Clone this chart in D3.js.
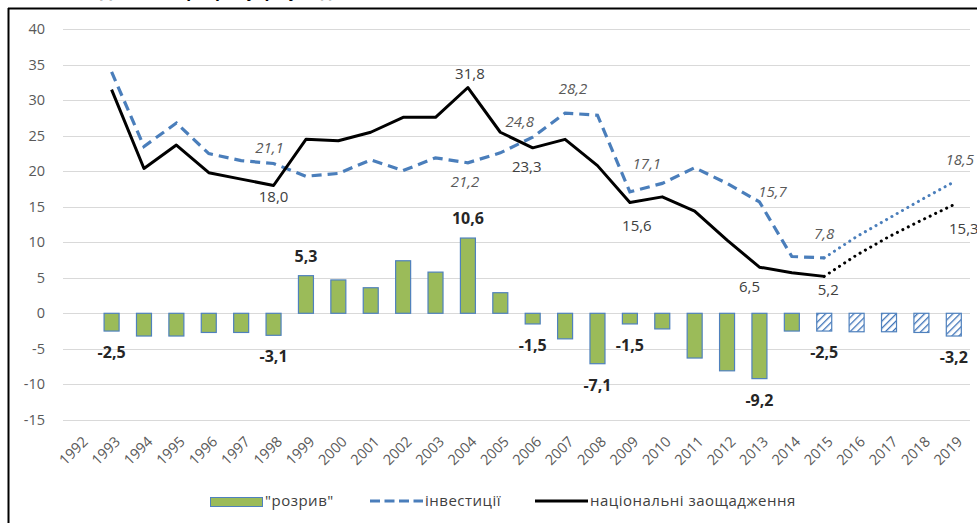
<!DOCTYPE html>
<html>
<head>
<meta charset="utf-8">
<script src="https://cdn.jsdelivr.net/npm/d3@7"></script>
<style>
  html, body { margin: 0; padding: 0; background: #fff; }
  svg { display: block; font-family: "Open Sans", "Noto Sans", sans-serif; }
</style>
</head>
<body>
<svg id="chart" width="977" height="523"></svg>
<script>
// ---- data ----
const years = ["1992","1993","1994","1995","1996","1997","1998","1999","2000","2001","2002","2003","2004","2005","2006","2007","2008","2009","2010","2011","2012","2013","2014","2015","2016","2017","2018","2019"];
const gap = [null,-2.5,-3.2,-3.2,-2.7,-2.7,-3.1,5.3,4.7,3.6,7.4,5.8,10.6,2.9,-1.5,-3.6,-7.1,-1.5,-2.2,-6.3,-8.1,-9.2,-2.5,-2.5,-2.6,-2.6,-2.7,-3.2];
const investment = [null,34.0,23.5,26.8,22.5,21.5,21.1,19.3,19.7,21.6,20.1,21.9,21.2,22.6,24.8,28.2,27.9,17.1,18.3,20.5,18.3,15.7,8.0,7.8,10.8,13.4,16.0,18.5];
const savings = [null,31.5,20.4,23.7,19.8,18.9,18.0,24.5,24.3,25.5,27.6,27.6,31.8,25.5,23.3,24.5,20.8,15.6,16.4,14.4,10.3,6.5,5.7,5.2,8.2,10.8,13.1,15.3];
const forecastStart = "2015";   // dotted lines and hatched bars from here
const yTicks = [40,35,30,25,20,15,10,5,0,-5,-10,-15];
const legendLabels = ["\"розрив\"", "інвестиції", "національні заощадження"];
const title = "Динаміка розриву, р. (у % до ВВП)";

// labelled points
const gapLabelYears = ["1993","1998","1999","2004","2006","2008","2009","2013","2015","2019"];
const invLabelYears = ["1998","2004","2006","2007","2009","2013","2015","2019"];
const savLabelYears = ["1998","2004","2006","2009","2013","2015","2019"];

// ---- label placement (pixels, style only) ----
const invLabelPos = {"1998":[-4,-10],"2004":[-3,24],"2006":[-13,-10],"2007":[8,-19],"2009":[17,-23],"2013":[13,-5],"2015":[0,-19],"2019":[6,-17]};
const savLabelPos = {"1998":[0,16.5],"2004":[2,-8.6],"2006":[-6,24],"2009":[7,28],"2013":[-10,25],"2015":[4,19],"2019":[10,29]};

const fmt = v => String(v.toFixed(1)).replace(".", ",");

const svg = d3.select("#chart");

// frame
svg.append("line").attr("x1",8).attr("x2",977).attr("y1",8.5).attr("y2",8.5).attr("stroke","#000").attr("stroke-width",2);
svg.append("line").attr("x1",8.5).attr("x2",8.5).attr("y1",8).attr("y2",523).attr("stroke","#000").attr("stroke-width",2);

// clipped title (only descenders visible, as in the reference)
svg.append("text").attr("x",100).attr("y",-3).attr("font-size",16).attr("font-weight","bold").attr("fill","#000").text(title);

const x = d3.scaleBand().domain(years).range([63, 970]).padding(0);
const y = d3.scaleLinear().domain([-15, 40]).range([419.8, 29.3]);
const cx = yr => x(yr) + x.bandwidth() / 2;

// gridlines
svg.append("g").selectAll("line").data(yTicks).join("line")
  .attr("x1", 63).attr("x2", 970)
  .attr("y1", d => Math.round(y(d)) + 0.5).attr("y2", d => Math.round(y(d)) + 0.5)
  .attr("stroke", "#d9d9d9").attr("stroke-width", 1);

// y axis labels
const yAxis = d3.axisLeft(y).tickValues(yTicks).tickSize(0).tickPadding(0).tickFormat(d => String(d));
const gy = svg.append("g").attr("transform", "translate(45,0)").call(yAxis);
gy.select(".domain").remove();
gy.selectAll("text").attr("font-size", 14.5).attr("fill", "#595959").attr("font-family", "Open Sans");

// x axis labels
const xAxis = d3.axisBottom(x).tickSize(0).tickPadding(0);
const gx = svg.append("g").call(xAxis);
gx.select(".domain").remove();
gx.selectAll(".tick").attr("transform", d => `translate(${cx(d)},0)`);
gx.selectAll("text")
  .attr("font-size", 14.5).attr("fill", "#595959").attr("font-family", "Open Sans")
  .attr("text-anchor", "end").attr("dy", "0.35em").attr("y", 0)
  .attr("transform", "translate(6,439) rotate(-45)");

// hatch pattern
const defs = svg.append("defs");
const pat = defs.append("pattern").attr("id", "hatch").attr("patternUnits", "userSpaceOnUse")
  .attr("width", 5).attr("height", 5).attr("patternTransform", "rotate(45)");
pat.append("rect").attr("width", 5).attr("height", 5).attr("fill", "#fff");
pat.append("line").attr("x1", 0).attr("y1", 0).attr("x2", 0).attr("y2", 5).attr("stroke", "#3d72b8").attr("stroke-width", 2.6);

// bars
const barW = 15;
const fi = years.indexOf(forecastStart);
const barData = years.map((yr, i) => ({yr, v: gap[i], f: i >= fi})).filter(d => d.v !== null);
svg.append("g").selectAll("rect").data(barData).join("rect")
  .attr("x", d => cx(d.yr) - barW / 2)
  .attr("width", barW)
  .attr("y", d => y(Math.max(0, d.v)))
  .attr("height", d => Math.abs(y(d.v) - y(0)))
  .attr("fill", d => d.f ? "url(#hatch)" : "#9bbb59")
  .attr("stroke", "#4f81bd").attr("stroke-width", 1.2);

// lines
const line = d3.line().x(d => cx(d.yr)).y(d => y(d.v));
function series(vals) { return years.map((yr, i) => ({yr, v: vals[i], i})).filter(d => d.v !== null); }
const inv = series(investment), sav = series(savings);
const solid = arr => arr.filter(d => d.i <= fi), dotted = arr => arr.filter(d => d.i >= fi);

svg.append("path").datum(solid(inv)).attr("d", line).attr("fill", "none")
  .attr("stroke", "#4a7ebb").attr("stroke-width", 3.2).attr("stroke-dasharray", "10,6");
svg.append("path").datum(dotted(inv)).attr("d", line).attr("fill", "none")
  .attr("stroke", "#4a7ebb").attr("stroke-width", 3).attr("stroke-dasharray", "0.1,6").attr("stroke-linecap", "round");
svg.append("path").datum(solid(sav)).attr("d", line).attr("fill", "none")
  .attr("stroke", "#000").attr("stroke-width", 3).attr("stroke-linejoin", "round");
svg.append("path").datum(dotted(sav)).attr("d", line).attr("fill", "none")
  .attr("stroke", "#000").attr("stroke-width", 3).attr("stroke-dasharray", "0.1,6").attr("stroke-linecap", "round");

// bar labels
svg.append("g").selectAll("text").data(barData.filter(d => gapLabelYears.includes(d.yr))).join("text")
  .attr("x", d => cx(d.yr))
  .attr("y", d => d.v >= 0 ? y(d.v) - 14 : y(d.v) + 27)
  .attr("text-anchor", "middle").attr("font-size", 16).attr("font-weight", "bold").attr("fill", "#262626")
  .text(d => fmt(d.v));

// line labels
svg.append("g").selectAll("text").data(inv.filter(d => invLabelYears.includes(d.yr))).join("text")
  .attr("x", d => cx(d.yr) + invLabelPos[d.yr][0])
  .attr("y", d => y(d.v) + invLabelPos[d.yr][1])
  .attr("text-anchor", "middle").attr("font-size", 15).attr("font-style", "italic").attr("fill", "#595959")
  .text(d => fmt(d.v));
svg.append("g").selectAll("text").data(sav.filter(d => savLabelYears.includes(d.yr))).join("text")
  .attr("x", d => cx(d.yr) + savLabelPos[d.yr][0])
  .attr("y", d => y(d.v) + savLabelPos[d.yr][1])
  .attr("text-anchor", "middle").attr("font-size", 15).attr("fill", "#404040")
  .text(d => fmt(d.v));

// legend
const lg = svg.append("g").attr("font-size", 15).attr("fill", "#404040").attr("letter-spacing", 0.5);
lg.append("rect").attr("x", 210.5).attr("y", 497.5).attr("width", 52).attr("height", 9).attr("fill", "#9bbb59").attr("stroke", "#4f81bd");
lg.append("text").attr("x", 265).attr("y", 506).text(legendLabels[0]);
lg.append("line").attr("x1", 370).attr("x2", 423).attr("y1", 501).attr("y2", 501).attr("stroke", "#4a7ebb").attr("stroke-width", 3.2).attr("stroke-dasharray", "10,4.5");
lg.append("text").attr("x", 425).attr("y", 506).text(legendLabels[1]);
lg.append("line").attr("x1", 535).attr("x2", 588).attr("y1", 501).attr("y2", 501).attr("stroke", "#000").attr("stroke-width", 3);
lg.append("text").attr("x", 590).attr("y", 506).text(legendLabels[2]);
</script>
</body>
</html>
